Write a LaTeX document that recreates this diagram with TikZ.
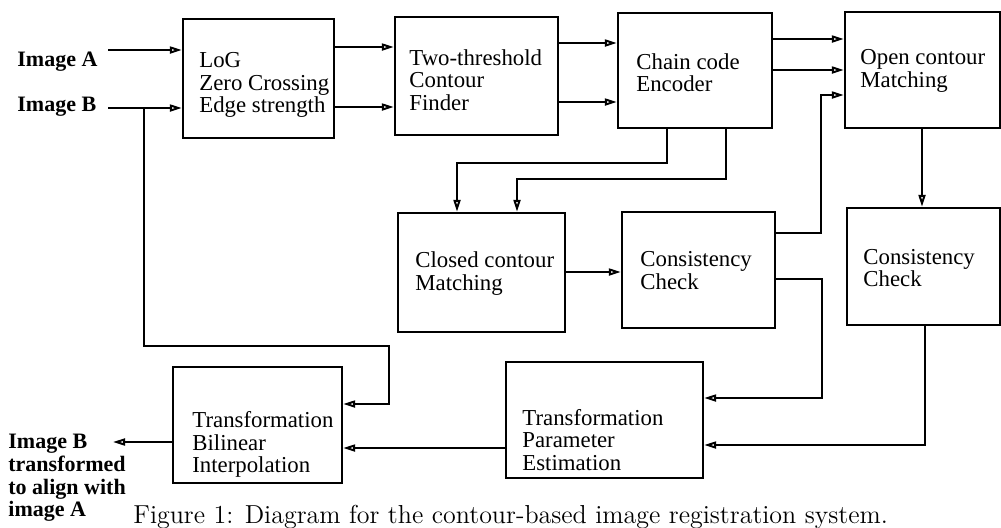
\documentclass[tikz,border=0pt]{standalone}
\usepackage{fontspec}
\newfontfamily\timesfont{Liberation Serif}
\usetikzlibrary{positioning,arrows.meta}

\tikzset{
  blk/.style={draw, line width=1.2pt, inner sep=0pt},
  lbl/.style={font=\timesfont\fontsize{11.4}{11.3}\selectfont, align=left, anchor=west, inner sep=0pt},
  tag/.style={font=\timesfont\bfseries\fontsize{11}{11.3}\selectfont, align=left, anchor=west, inner sep=0pt},
  con/.style={line width=1pt, -{Triangle[open,length=6pt,width=3.5pt]}},
}

\begin{document}
\begin{tikzpicture}[x=0.5pt,y=-0.5pt]
\useasboundingbox (0,0) rectangle (1001,527);

% blocks
\node[blk, minimum width=75.5pt, minimum height=59.5pt] (log) at (258.5,78.5) {};
\node[blk, minimum width=81.5pt, minimum height=59pt] (two) at (476.5,76) {};
\node[blk, minimum width=77pt, minimum height=57.5pt] (chain) at (695,70.5) {};
\node[blk, minimum width=77.5pt, minimum height=58pt] (open) at (922.5,70) {};
\node[blk, minimum width=83.5pt, minimum height=59.5pt] (closed) at (481.5,272.5) {};
\node[blk, minimum width=76.5pt, minimum height=58pt] (consA) at (698.5,270) {};
\node[blk, minimum width=76.5pt, minimum height=58.5pt] (consB) at (923.5,266.5) {};
\node[blk, minimum width=98.5pt, minimum height=58pt] (param) at (604.5,420) {};
\node[blk, minimum width=84.5pt, minimum height=58pt] (warp) at (257.5,425) {};

% block texts
\node[lbl] (logt) at (199,85) {LoG\\Zero Crossing\\Edge strength};
\node[lbl] (twot) at (409,80) {Two-threshold\\Contour\\Finder};
\node[lbl] (chaint) at (636,72.5) {Chain code\\Encoder};
\node[lbl] (opent) at (860,71) {Open contour\\Matching};
\node[lbl] (closedt) at (415,273.5) {Closed contour\\Matching};
\node[lbl] (consAt) at (640,270.5) {Consistency\\Check};
\node[lbl] (consBt) at (863,268) {Consistency\\Check};
\node[lbl] (paramt) at (522,440) {Transformation\\Parameter\\Estimation};
\node[lbl] (warpt) at (192,444.5) {Transformation\\Bilinear\\Interpolation};

% inputs and output
\node[tag] (imA) at (17,62) {Image A};
\node[tag] (imB) at (17,107) {Image B};
\node[tag] (outl) at (8,478) {Image B\\transformed\\to align with\\image A};
\coordinate (inA) at (108,50);
\coordinate (inB) at (108,108);
\coordinate (tap) at (144,108);
\coordinate (fb) at (389,404);
\coordinate (outB) at (113,442);

\draw[con] (inA) -- (inA -| log.west);
\draw[con] (inB) -- (inB -| log.west);
\draw[con] (tap) |- (389,346) -- (fb) -- (fb -| warp.east);

% top row
\draw[con] (log.east |- 0,47) -- (two.west |- 0,47);
\draw[con] (log.east |- 0,107) -- (two.west |- 0,107);
\draw[con] (two.east |- 0,43) -- (chain.west |- 0,43);
\draw[con] (two.east |- 0,102) -- (chain.west |- 0,102);
\draw[con] (chain.east |- 0,39) -- (open.west |- 0,39);
\draw[con] (chain.east |- 0,70) -- (open.west |- 0,70);

% down to the matching stages
\draw[con] (chain.south -| 667,0) |- (457,163) -- (closed.north -| 457,0);
\draw[con] (chain.south -| 726,0) |- (517,179) -- (closed.north -| 517,0);
\draw[con] (open.south -| 922,0) -- (consB.north -| 922,0);
\draw[con] (closed.east |- 0,272) -- (consA.west |- 0,272);
\draw[con] (consA.east |- 0,233) -| (821,95) -- (open.west |- 0,95);
\draw[con] (consA.east |- 0,279) -| (822,398) -- (param.east |- 0,398);
\draw[con] (consB.south -| 925,0) |- (param.east |- 0,445);

% bottom row
\draw[con] (param.west |- 0,448) -- (warp.east |- 0,448);
\draw[con] (warp.west |- 0,442) -- (outB);

\node[anchor=base west, inner sep=0pt, font=\fontsize{13}{15}\selectfont] (cap) at (133,523) {Figure 1: Diagram for the contour-based image registration system.};
\end{tikzpicture}
\end{document}
